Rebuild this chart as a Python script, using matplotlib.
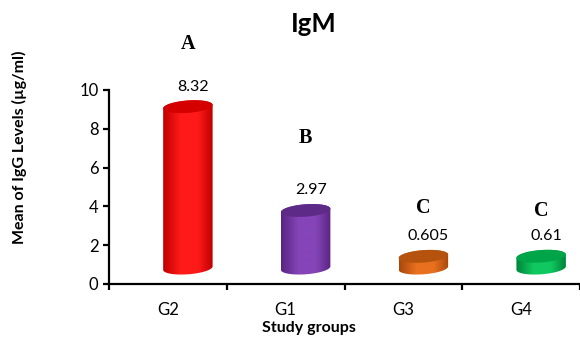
import numpy as np
import matplotlib.pyplot as plt
from matplotlib.patches import Polygon
from matplotlib.colors import LinearSegmentedColormap

# ── Data ───────────────────────────────────────────────────────────────────────
groups       = ["G2", "G1", "G3", "G4"]
means        = [8.32, 2.97, 0.605, 0.61]
value_labels = ["8.32", "2.97", "0.605", "0.61"]
letters      = ["A", "B", "C", "C"]
letter_y     = [12.37, 7.53, 3.92, 3.76]

body_edge  = ["#C00000", "#5A2482", "#A8480A", "#00843A"]
body_light = ["#FF1A1A", "#8545B8", "#E8701E", "#10C860"]
top_colors = ["#D40000", "#5E2A88", "#B4520E", "#00A449"]

plt.rcParams["font.family"] = ["Lato", "DejaVu Sans"]

fig = plt.figure(figsize=(5.8, 3.38), dpi=100)
ax = fig.add_axes([109 / 580, 54 / 338, 1 - 109 / 580, 194 / 338])

# pseudo-3D depth offset (data units) and cylinder shape
dx, dy = 0.17, 0.82
a, b, tilt = 0.21, 0.32, 0.09


def cylinder(xc, h, edge, light, top):
    y0, y1 = dy, h + dy
    tb = np.linspace(np.pi, 2 * np.pi, 80)
    tt = np.linspace(0, np.pi, 80)
    bx = xc + a * np.cos(tb)
    by = y0 + b * np.sin(tb) + tilt * np.cos(tb)
    tx = xc + a * np.cos(tt)
    ty = y1 + b * np.sin(tt) + tilt * np.cos(tt)
    body = Polygon(np.column_stack([np.r_[bx, tx], np.r_[by, ty]]),
                   closed=True, facecolor="none", edgecolor="none")
    ax.add_patch(body)
    cmap = LinearSegmentedColormap.from_list(
        "c", [(0, edge), (0.35, light), (0.7, light), (1, edge)])
    grad = np.linspace(0, 1, 200).reshape(1, -1)
    im = ax.imshow(grad, cmap=cmap, aspect="auto", origin="lower",
                   extent=[xc - a, xc + a, y0 - b - tilt, y1 + b + tilt],
                   zorder=2, interpolation="bilinear")
    im.set_clip_path(body)
    t = np.linspace(0, 2 * np.pi, 160)
    ex = xc + a * np.cos(t)
    ey = y1 + b * np.sin(t) + tilt * np.cos(t)
    ax.add_patch(Polygon(np.column_stack([ex, ey]), closed=True,
                         facecolor=top, edgecolor="none", zorder=3))


x = np.arange(len(groups))
for i, (g, v) in enumerate(zip(groups, means)):
    xc = x[i] + dx
    cylinder(xc, v, body_edge[i], body_light[i], top_colors[i])
    ax.annotate(value_labels[i], (xc, v + dy), xytext=(5, 20),
                textcoords="offset pixels", ha="center", va="center",
                fontsize=11.5, annotation_clip=False)
    ax.text(xc, letter_y[i], letters[i], ha="center", va="center",
            fontsize=14.5, fontweight="bold", family="Liberation Serif",
            clip_on=False)

ax.set_xlim(-0.5, 3.42)
ax.set_ylim(0, 10)

# ── Axes styling ───────────────────────────────────────────────────────────────
for s in ["top", "right"]:
    ax.spines[s].set_visible(False)
for s in ["left", "bottom"]:
    ax.spines[s].set_linewidth(1.6)
ax.set_yticks(np.arange(0, 11, 2))
ax.tick_params(axis="y", labelsize=12, length=4, width=1.6, direction="out")
ax.set_xticks(np.arange(len(groups) + 1) - 0.5)
ax.set_xticklabels([])
ax.set_xticks(x, groups, minor=True)
ax.tick_params(axis="x", which="minor", length=0, labelsize=12, pad=13)
ax.tick_params(axis="x", which="major", length=4, width=1.6, direction="out")

fig.text(314 / 580, 1 - 24 / 338, "IgM", ha="center", va="center",
         fontsize=18.5, fontweight="bold")
fig.text(19 / 580, 1 - 147 / 338, "Mean of IgG Levels (\u00b5g/ml)",
         rotation=90, ha="center", va="center", fontsize=11.5, fontweight="bold")
fig.text(309 / 580, 1 - 328 / 338, "Study groups", ha="center", va="center",
         fontsize=11.5, fontweight="bold")

plt.savefig("out.png", dpi=100)
